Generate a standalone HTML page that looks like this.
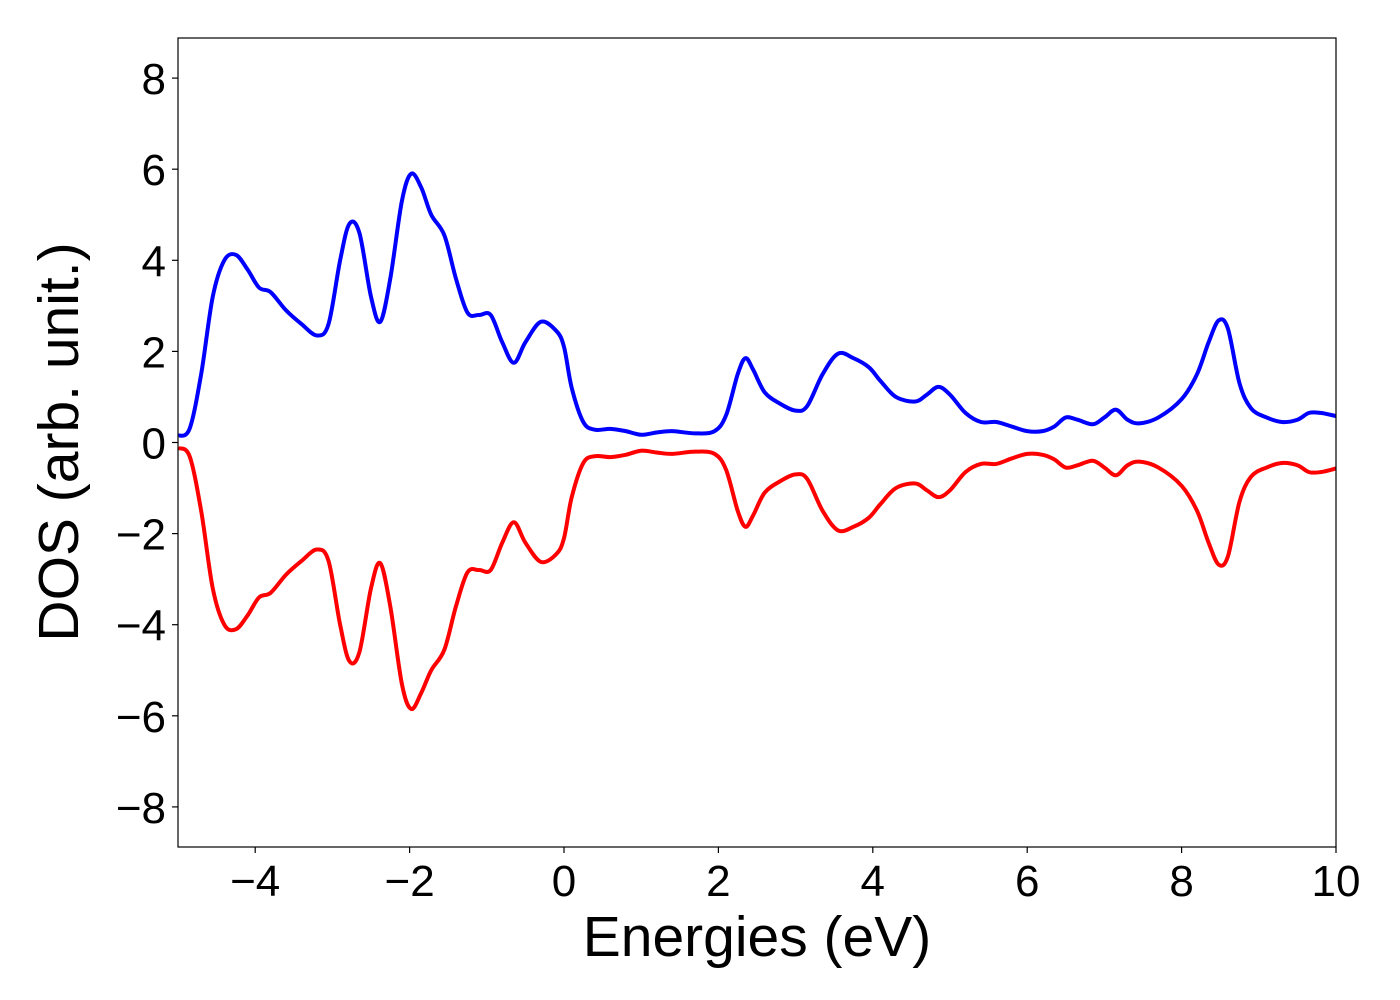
<!DOCTYPE html>
<html><head><meta charset="utf-8"><style>
body{margin:0;background:#fff;}
svg{display:block;font-family:"Liberation Sans","DejaVu Sans",sans-serif;}
</style></head><body>
<svg id="chart" width="1400" height="1000" viewBox="0 0 1400 1000"></svg>
<script>
const energies = [-5,-4.85,-4.7,-4.55,-4.4,-4.25,-4.1,-3.95,-3.8,-3.6,-3.4,-3.2,-3.05,-2.9,-2.78,-2.65,-2.5,-2.38,-2.25,-2.1,-1.98,-1.85,-1.72,-1.55,-1.4,-1.25,-1.1,-0.95,-0.8,-0.65,-0.5,-0.3,-0.1,0,0.1,0.25,0.4,0.6,0.8,1.0,1.2,1.4,1.7,1.95,2.1,2.25,2.35,2.45,2.6,2.8,3.0,3.15,3.35,3.55,3.75,3.95,4.1,4.3,4.55,4.7,4.85,5.0,5.2,5.4,5.6,5.8,6.0,6.2,6.35,6.5,6.65,6.85,7.0,7.15,7.3,7.45,7.7,8.0,8.2,8.35,8.48,8.6,8.75,8.9,9.1,9.3,9.5,9.65,9.8,10];
const spinUp = [0.15,0.3,1.5,3.2,4.0,4.12,3.8,3.4,3.3,2.9,2.6,2.35,2.6,4.0,4.8,4.6,3.2,2.65,3.6,5.3,5.9,5.6,5.0,4.55,3.6,2.85,2.8,2.8,2.2,1.75,2.2,2.65,2.45,2.1,1.2,0.45,0.28,0.3,0.25,0.17,0.22,0.25,0.2,0.25,0.6,1.5,1.85,1.6,1.1,0.85,0.7,0.8,1.5,1.95,1.85,1.65,1.35,1.0,0.9,1.05,1.22,1.05,0.65,0.45,0.45,0.35,0.25,0.25,0.35,0.55,0.5,0.4,0.55,0.72,0.5,0.42,0.55,0.95,1.5,2.2,2.68,2.5,1.3,0.75,0.55,0.45,0.5,0.65,0.65,0.58];
const spinDown = [-0.12,-0.3,-1.5,-3.2,-4.0,-4.1,-3.8,-3.4,-3.3,-2.9,-2.6,-2.35,-2.6,-4.0,-4.8,-4.6,-3.2,-2.65,-3.6,-5.3,-5.85,-5.5,-5.0,-4.55,-3.6,-2.85,-2.8,-2.8,-2.2,-1.75,-2.2,-2.62,-2.45,-2.1,-1.2,-0.45,-0.3,-0.32,-0.27,-0.18,-0.22,-0.25,-0.2,-0.25,-0.6,-1.5,-1.85,-1.6,-1.1,-0.85,-0.7,-0.8,-1.5,-1.93,-1.85,-1.65,-1.35,-1.0,-0.9,-1.05,-1.2,-1.05,-0.65,-0.47,-0.47,-0.35,-0.25,-0.27,-0.37,-0.55,-0.5,-0.4,-0.55,-0.72,-0.5,-0.42,-0.55,-0.95,-1.5,-2.2,-2.68,-2.5,-1.3,-0.75,-0.55,-0.45,-0.5,-0.65,-0.65,-0.57];
const xTicks = [-4,-2,0,2,4,6,8,10];
const yTicks = [-8,-6,-4,-2,0,2,4,6,8];
const xTickLabels = ["\u22124","\u22122","0","2","4","6","8","10"];
const yTickLabels = ["\u22128","\u22126","\u22124","\u22122","0","2","4","6","8"];

const L=178,R=1336,T=38,B=847, xMin=-5,xMax=10,yMin=-8.88,yMax=8.88;
const sx=v=>L+(v-xMin)/(xMax-xMin)*(R-L);
const sy=v=>B-(v-yMin)/(yMax-yMin)*(B-T);
const svg=document.getElementById('chart');
const NS='http://www.w3.org/2000/svg';
function mk(tag,attrs){const e=document.createElementNS(NS,tag);for(const k in attrs)e.setAttribute(k,attrs[k]);svg.appendChild(e);return e;}
function path(xs,ys){
  const p=xs.map((x,i)=>[sx(x),sy(ys[i])]);
  let d='M'+p[0][0]+','+p[0][1];
  for(let i=0;i<p.length-1;i++){
    const p0=p[Math.max(0,i-1)],p1=p[i],p2=p[i+1],p3=p[Math.min(p.length-1,i+2)];
    const c1=[p1[0]+(p2[0]-p0[0])/6,p1[1]+(p2[1]-p0[1])/6];
    const c2=[p2[0]-(p3[0]-p1[0])/6,p2[1]-(p3[1]-p1[1])/6];
    d+=' C'+c1[0]+','+c1[1]+' '+c2[0]+','+c2[1]+' '+p2[0]+','+p2[1];
  }
  return d;
}
const defs=mk('clipPath',{id:'clip'});
const cr=document.createElementNS(NS,'rect');cr.setAttribute('x',L);cr.setAttribute('y',T);cr.setAttribute('width',R-L);cr.setAttribute('height',B-T);defs.appendChild(cr);

const up=mk('path',{d:path(energies,spinUp),fill:'none',stroke:'#0000ff','stroke-width':4,'clip-path':'url(#clip)'});


const dn=mk('path',{d:path(energies,spinDown),fill:'none',stroke:'#ff0000','stroke-width':4,'clip-path':'url(#clip)'});



const frame=mk('rect',{x:L,y:T,width:R-L,height:B-T,fill:'none',stroke:'#000','stroke-width':1.2});



xTicks.forEach((v,i)=>{
  const x=sx(v);
  const t=mk('line',{x1:x,x2:x,y1:B,y2:B+6,stroke:'#000','stroke-width':1.2});
  
  
  const tx=mk('text',{x:x,y:B+49,'font-size':44,'text-anchor':'middle'});
  tx.textContent=xTickLabels[i];
  
  
});
yTicks.forEach((v,i)=>{
  const y=sy(v);
  const t=mk('line',{x1:L-6,x2:L,y1:y,y2:y,stroke:'#000','stroke-width':1.2});
  
  
  const tx=mk('text',{x:L-12,y:y+16,'font-size':44,'text-anchor':'end'});
  tx.textContent=yTickLabels[i];
  
  
});
const xl=mk('text',{x:(L+R)/2,y:956,'font-size':57,'text-anchor':'middle'});
xl.textContent='Energies (eV)';


const yl=mk('text',{x:0,y:0,'font-size':57,'text-anchor':'middle',transform:'translate(78,442) rotate(-90)'});
yl.textContent='DOS (arb. unit.)';


</script>
</body></html>
